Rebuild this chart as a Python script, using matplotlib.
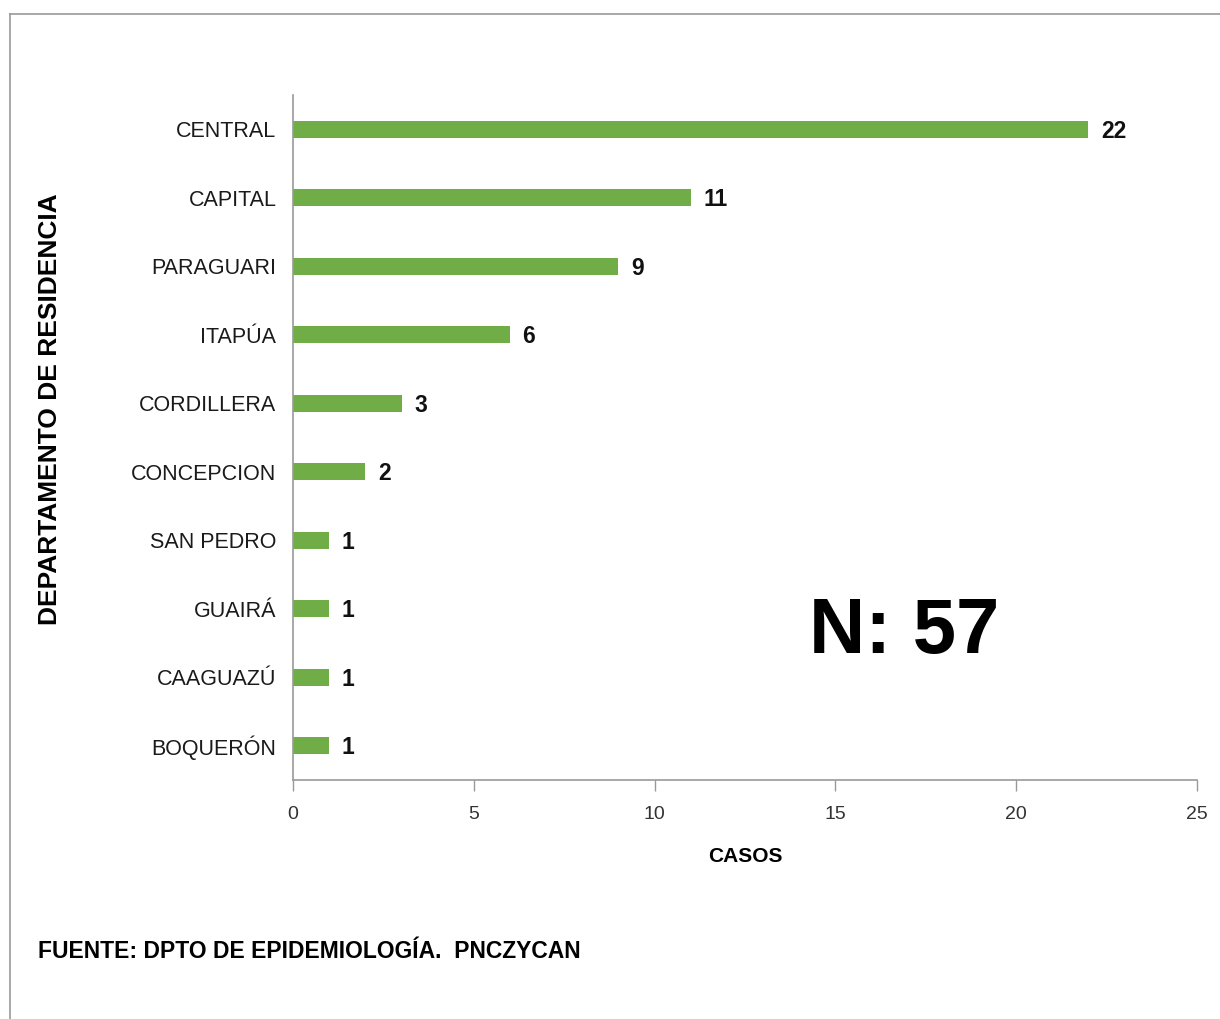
import matplotlib.pyplot as plt
from matplotlib.lines import Line2D

departamentos = ['CENTRAL', 'CAPITAL', 'PARAGUARI', 'ITAPÚA', 'CORDILLERA',
                 'CONCEPCION', 'SAN PEDRO', 'GUAIRÁ', 'CAAGUAZÚ', 'BOQUERÓN']
casos = [22, 11, 9, 6, 3, 2, 1, 1, 1, 1]
x_ticks = [0, 5, 10, 15, 20, 25]
total = 57

fuente = ['Liberation Sans', 'DejaVu Sans']
verde = '#70AD47'

fig = plt.figure(figsize=(12.2, 10.19), dpi=100)
ax = fig.add_axes([0.2402, 0.2346, 0.7409, 0.6722])

pos = list(range(len(departamentos)))
ax.barh(pos, casos, height=0.25, color=verde)
ax.set_ylim(len(departamentos) - 0.5, -0.5)
ax.set_xlim(0, 25)

for i, v in enumerate(casos):
    ax.annotate(str(v), (v, i), xytext=(9, -1.5), textcoords='offset points',
                ha='left', va='center', fontsize=16.5, fontweight='bold',
                family=fuente, color='#111111')

ax.set_yticks(pos)
ax.set_yticklabels(departamentos, family=fuente, fontsize=15.5, color='#1a1a1a')
ax.tick_params(axis='y', length=0, pad=12)
ax.set_xticks(x_ticks)
ax.set_xticklabels([str(t) for t in x_ticks], family=fuente, fontsize=14, color='#333333')
ax.tick_params(axis='x', length=8, width=1, color='#999999', pad=11, direction='out')

for s in ['top', 'right']:
    ax.spines[s].set_visible(False)
for s in ['left', 'bottom']:
    ax.spines[s].set_color('#999999')
    ax.spines[s].set_linewidth(1.2)

ax.set_xlabel('CASOS', family=fuente, fontsize=15, fontweight='bold', labelpad=17)

fig.text(0.041, 0.5986, 'DEPARTAMENTO DE RESIDENCIA', rotation=90, ha='center', va='center',
         family=fuente, fontsize=19, fontweight='bold')

fig.text(0.741, 0.379, 'N: ' + str(total), ha='center', va='center',
         family=fuente, fontsize=56, fontweight='bold')

fig.text(0.031, 0.066, 'FUENTE: DPTO DE EPIDEMIOLOGÍA.  PNCZYCAN', ha='left', va='center',
         family=fuente, fontsize=16.5, fontweight='bold')

# marco gris arriba e izquierda
fig.add_artist(Line2D([0.008, 1.0], [0.986, 0.986], color='#999999', lw=1.2))
fig.add_artist(Line2D([0.008, 0.008], [0.0, 0.986], color='#999999', lw=1.2))

fig.savefig('out.png', dpi=100)
